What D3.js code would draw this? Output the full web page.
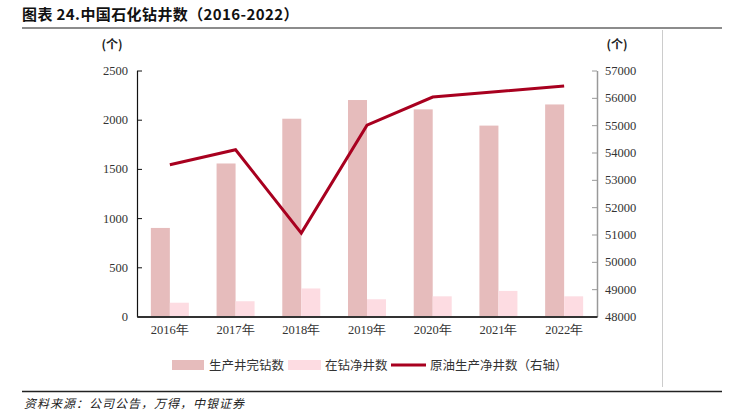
<!DOCTYPE html>
<html><head><meta charset="utf-8">
<script src="https://cdn.jsdelivr.net/npm/d3@7"></script>
<style>
body{margin:0;background:#fff;}
svg{display:block;}
</style></head>
<body>
<svg id="chart" width="735" height="417"></svg>
<script>
const categories = ["2016年","2017年","2018年","2019年","2020年","2021年","2022年"];
const completedWells = [900, 1555, 2010, 2200, 2105, 1940, 2155];
const drillingWells = [140, 155, 285, 175, 205, 260, 205];
const productionWells = [53550, 54100, 51050, 55000, 56030, 56230, 56430];
const leftTicks = [0, 500, 1000, 1500, 2000, 2500];
const rightTicks = [48000, 49000, 50000, 51000, 52000, 53000, 54000, 55000, 56000, 57000];
const seriesNames = ["生产井完钻数", "在钻净井数", "原油生产净井数（右轴）"];

const svg = d3.select("#chart");
const cjk = "'Noto Sans CJK SC', 'Noto Sans', sans-serif";
const serif = "'Liberation Serif', 'DejaVu Serif', serif";

const L = 137, R = 597, T = 70.5, B = 316.5;

// Title
svg.append("text").attr("x", 22).attr("y", 20)
  .attr("font-family", cjk).attr("font-size", 15).attr("font-weight", "bold").attr("fill", "#111")
  .attr("letter-spacing", 0.4)
  .text("图表 24.中国石化钻井数（2016-2022）");
svg.append("line").attr("x1", 22).attr("x2", 722).attr("y1", 28).attr("y2", 28)
  .attr("stroke", "#666").attr("stroke-width", 1.5);
// right vertical frame line
svg.append("line").attr("x1", 662.5).attr("x2", 662.5).attr("y1", 30).attr("y2", 387)
  .attr("stroke", "#ccc").attr("stroke-width", 1);
// bottom line + source
svg.append("line").attr("x1", 22).attr("x2", 722).attr("y1", 391.5).attr("y2", 391.5)
  .attr("stroke", "#222").attr("stroke-width", 1.5);
svg.append("text").attr("x", 24).attr("y", 408)
  .attr("font-family", cjk).attr("font-size", 12).attr("font-style", "italic").attr("fill", "#222")
  .attr("letter-spacing", 1)
  .text("资料来源：公司公告，万得，中银证券");

const x0 = d3.scaleBand().domain(categories).range([L, R]);
const x1 = d3.scaleBand().domain([0, 1]).range([-19, 19]);
const yL = d3.scaleLinear().domain([0, 2500]).range([B, T]);
const yR = d3.scaleLinear().domain([48000, 57000]).range([B, T]);

const colors = ["#E6BCBC", "#FDDCE2", "#A8001F"];

// bars
const g = svg.append("g");
categories.forEach((c, i) => {
  const cx = x0(c) + x0.bandwidth() / 2;
  [completedWells[i], drillingWells[i]].forEach((v, k) => {
    g.append("rect")
      .attr("x", cx + x1(k)).attr("width", x1.bandwidth())
      .attr("y", yL(v)).attr("height", yL(0) - yL(v))
      .attr("fill", colors[k]);
  });
});

const fmt = d3.format("d");
// left axis
const axL = svg.append("g").attr("transform", `translate(${L},0)`)
  .call(d3.axisLeft(yL).tickValues(leftTicks).tickFormat(fmt).tickSizeInner(-5).tickSizeOuter(0).tickPadding(9));
axL.select(".domain").attr("stroke", "#111").attr("stroke-width", 1.2);
axL.selectAll(".tick line").attr("stroke", "#111");
axL.selectAll("text").attr("font-family", serif).attr("font-size", 12.5).attr("fill", "#333");

// right axis
const axR = svg.append("g").attr("transform", `translate(${R},0)`)
  .call(d3.axisRight(yR).tickValues(rightTicks).tickFormat(fmt).tickSizeInner(-5).tickSizeOuter(0).tickPadding(8));
axR.select(".domain").attr("stroke", "#999").attr("stroke-width", 1.5);
axR.selectAll(".tick line").attr("stroke", "#999");
axR.selectAll("text").attr("font-family", serif).attr("font-size", 12.5).attr("fill", "#333");

// bottom axis
const axB = svg.append("g").attr("transform", `translate(0,${B})`)
  .call(d3.axisBottom(x0).tickSize(0).tickPadding(9));
axB.select(".domain").attr("stroke", "#333").attr("stroke-width", 2);
axB.selectAll("text").attr("font-family", serif).attr("font-size", 12.5).attr("fill", "#333");

// line
const line = d3.line()
  .x((d, i) => x0(categories[i]) + x0.bandwidth() / 2)
  .y(d => yR(d));
svg.append("path").datum(productionWells).attr("d", line)
  .attr("fill", "none").attr("stroke", colors[2]).attr("stroke-width", 3).attr("stroke-linejoin", "miter");

// unit labels
svg.append("text").attr("x", 112).attr("y", 49).attr("text-anchor", "middle")
  .attr("font-family", cjk).attr("font-size", 12).attr("font-weight", "bold").attr("fill", "#222").text("(个)");
svg.append("text").attr("x", 617).attr("y", 49).attr("text-anchor", "middle")
  .attr("font-family", cjk).attr("font-size", 12).attr("font-weight", "bold").attr("fill", "#222").text("(个)");

// legend
const legY = 365;
const lg = svg.append("g").attr("font-family", cjk).attr("font-size", 12.5).attr("fill", "#333");
lg.append("rect").attr("x", 172).attr("y", legY - 5).attr("width", 32).attr("height", 10).attr("fill", colors[0]);
lg.append("text").attr("x", 209).attr("y", legY + 4.5).text(seriesNames[0]);
lg.append("rect").attr("x", 288).attr("y", legY - 5).attr("width", 33).attr("height", 10).attr("fill", colors[1]);
lg.append("text").attr("x", 325).attr("y", legY + 4.5).text(seriesNames[1]);
lg.append("line").attr("x1", 391).attr("x2", 426).attr("y1", legY).attr("y2", legY).attr("stroke", colors[2]).attr("stroke-width", 3);
lg.append("text").attr("x", 430).attr("y", legY + 4.5).text(seriesNames[2]);
</script>
</body></html>
